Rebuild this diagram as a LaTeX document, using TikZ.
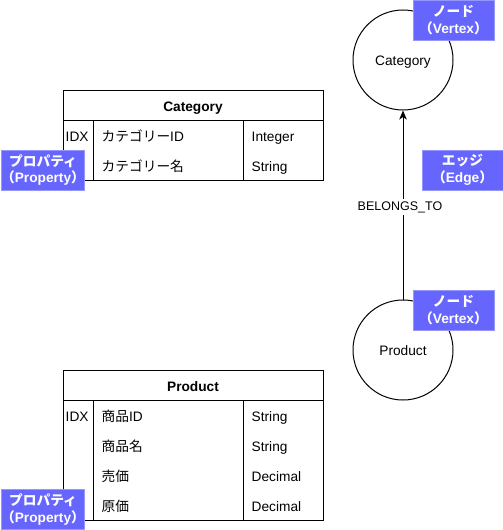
\documentclass[tikz,border=0pt]{standalone}
\usepackage{fontspec}
\setmainfont{Liberation Sans}
\newfontfamily\cjk{Noto Sans CJK JP}
\usetikzlibrary{arrows.meta}
\definecolor{tagfill}{RGB}{102,102,255}
\definecolor{tagline}{RGB}{150,150,255}
\newcommand{\fs}{\fontsize{13.7}{16.5}\selectfont}
\tikzset{
  tbox/.style={draw=black, line width=1pt, inner sep=0pt},
  sep/.style={line width=1pt},
  cell/.style={anchor=base west, inner sep=0pt},
  vertex/.style={circle, draw=black, line width=1pt, minimum size=100pt, inner sep=0pt},
  tag/.style={fill=tagfill, draw=tagline, line width=1pt, minimum width=81pt, minimum height=40pt,
    inner sep=0pt, align=center, text=white, font=\fs\bfseries},
  edgelabel/.style={fill=white, inner sep=2pt, font=\fontsize{12.5}{15}\selectfont}
}
\begin{document}
\begin{tikzpicture}[x=1pt,y=-1pt, font=\fs]
\useasboundingbox (0,0) rectangle (503,530);

% Category table
\node[tbox, minimum width=260pt, minimum height=30pt] (cathead) at (193,105) {};
\node[anchor=base, inner sep=0pt, font=\fs\bfseries] (cattitle) at (193,111) {Category};
\node[tbox, minimum width=260pt, minimum height=60pt] (catbody) at (193,150) {};
\draw[sep] (93,120) -- (93,180);
\draw[sep] (243,120) -- (243,180);
\node[cell] (catidx) at (65.5,141.5) {IDX};
\node[cell] (catf1) at (101.5,141.5) {{\cjk カテゴリー}ID};
\node[cell] (catt1) at (251.5,141.5) {Integer};
\node[cell] (catf2) at (101.5,171.5) {{\cjk カテゴリー名}};
\node[cell] (catt2) at (251.5,171.5) {String};

% Product table
\node[tbox, minimum width=260pt, minimum height=30pt] (prodhead) at (193,385) {};
\node[anchor=base, inner sep=0pt, font=\fs\bfseries] (prodtitle) at (193,391) {Product};
\node[tbox, minimum width=260pt, minimum height=120pt] (prodbody) at (193,460) {};
\draw[sep] (93,400) -- (93,520);
\draw[sep] (243,400) -- (243,520);
\node[cell] (prodidx) at (65.5,421.5) {IDX};
\node[cell] (prodf1) at (101.5,421.5) {{\cjk 商品}ID};
\node[cell] (prodt1) at (251.5,421.5) {String};
\node[cell] (prodf2) at (101.5,451.5) {{\cjk 商品名}};
\node[cell] (prodt2) at (251.5,451.5) {String};
\node[cell] (prodf3) at (101.5,481.5) {{\cjk 売価}};
\node[cell] (prodt3) at (251.5,481.5) {Decimal};
\node[cell] (prodf4) at (101.5,511.5) {{\cjk 原価}};
\node[cell] (prodt4) at (251.5,511.5) {Decimal};

% Graph
\node[vertex] (vcat) at (403,60) {};
\node[anchor=base, inner sep=0pt] (vcattext) at (403,65.5) {Category};
\node[vertex] (vprod) at (403,350) {};
\node[anchor=base, inner sep=0pt] (vprodtext) at (403,355.5) {Product};
\draw[line width=1pt, -{Stealth[length=9pt, width=7.5pt, inset=2.5pt]}] (vprod) -- (vcat)
  node[edgelabel, pos=0.5, xshift=-3pt, yshift=-2pt] (elabel) {BELONGS\_TO};

% Tags
\node[tag] (tagprop1) at (43,170) {{\cjk プロパティ}\\{\cjk （}Property{\cjk ）}};
\node[tag] (tagprop2) at (43,509.5) {{\cjk プロパティ}\\{\cjk （}Property{\cjk ）}};
\node[tag] (tagv1) at (453.5,20) {{\cjk ノード}\\{\cjk （}Vertex{\cjk ）}};
\node[tag] (tagv2) at (453.5,310) {{\cjk ノード}\\{\cjk （}Vertex{\cjk ）}};
\node[tag] (tage) at (462.5,170) {{\cjk エッジ}\\{\cjk （}Edge{\cjk ）}};
\end{tikzpicture}
\end{document}
